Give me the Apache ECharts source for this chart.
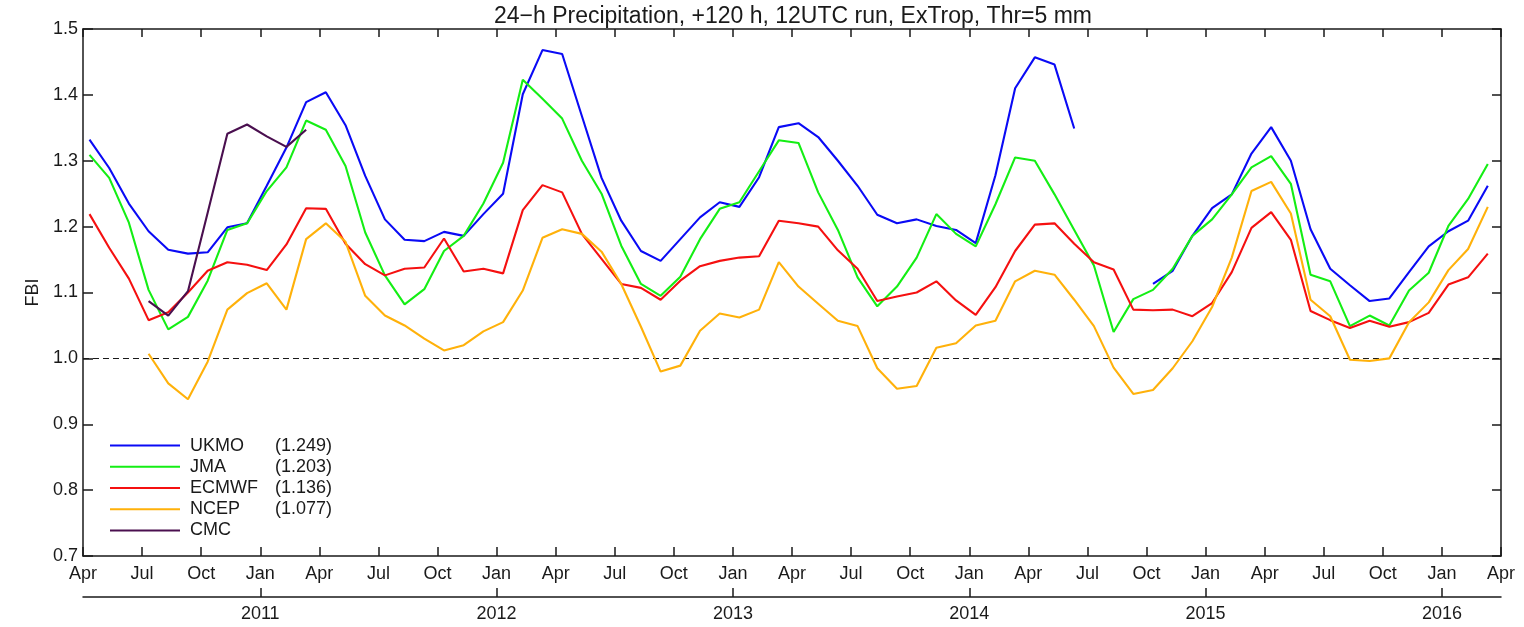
<!DOCTYPE html>
<html>
<head>
<meta charset="utf-8">
<title>FBI 24-h Precipitation</title>
<script src="https://cdn.jsdelivr.net/npm/echarts@6/dist/echarts.min.js"></script>
<style>
  html, body { margin: 0; padding: 0; background: #ffffff; }
  #chart { width: 1524px; height: 627px; }
</style>
</head>
<body>
<div id="chart"></div>
<script>
// Monthly frequency bias index, Apr 2010 .. Mar 2016 (72 months, one value per month)
const ukmo = [
  1.332, 1.289, 1.235, 1.193, 1.165, 1.159, 1.161, 1.199, 1.205, 1.262, 1.320, 1.389,
  1.404, 1.354, 1.277, 1.211, 1.180, 1.178, 1.192, 1.186, 1.219, 1.250, 1.401, 1.468,
  1.462, 1.368, 1.274, 1.209, 1.163, 1.148, 1.181, 1.214, 1.237, 1.230, 1.275, 1.351,
  1.357, 1.336, 1.300, 1.262, 1.218, 1.205, 1.211, 1.201, 1.195, 1.175, 1.278, 1.410,
  1.457, 1.446, 1.349, null,  null,  null,  1.113, 1.133, 1.186, 1.228, 1.249, 1.311,
  1.351, 1.300, 1.196, 1.136, 1.111, 1.087, 1.091, 1.131, 1.170, 1.193, 1.209, 1.262
];
const jma = [
  1.309, 1.274, 1.206, 1.104, 1.044, 1.063, 1.118, 1.195, 1.205, 1.254, 1.290, 1.361,
  1.347, 1.292, 1.191, 1.126, 1.082, 1.105, 1.163, 1.186, 1.235, 1.297, 1.423, 1.394,
  1.364, 1.300, 1.250, 1.171, 1.113, 1.095, 1.124, 1.181, 1.227, 1.237, 1.284, 1.331,
  1.327, 1.252, 1.195, 1.123, 1.079, 1.109, 1.153, 1.219, 1.189, 1.170, 1.234, 1.305,
  1.300, 1.249, 1.195, 1.141, 1.040, 1.090, 1.104, 1.136, 1.186, 1.211, 1.249, 1.290,
  1.307, 1.265, 1.127, 1.117, 1.049, 1.065, 1.050, 1.103, 1.130, 1.201, 1.242, 1.295
];
const ecmwf = [
  1.219, 1.168, 1.121, 1.058, 1.070, 1.100, 1.133, 1.146, 1.142, 1.134, 1.173, 1.228,
  1.227, 1.174, 1.143, 1.126, 1.136, 1.138, 1.182, 1.132, 1.136, 1.129, 1.225, 1.263,
  1.252, 1.189, 1.151, 1.113, 1.107, 1.089, 1.118, 1.140, 1.148, 1.153, 1.155, 1.209,
  1.205, 1.200, 1.164, 1.136, 1.087, 1.094, 1.100, 1.117, 1.088, 1.066, 1.108, 1.163,
  1.203, 1.205, 1.174, 1.146, 1.135, 1.074, 1.073, 1.074, 1.064, 1.084, 1.131, 1.198,
  1.222, 1.180, 1.072, 1.058, 1.046, 1.057, 1.048, 1.055, 1.069, 1.112, 1.123, 1.159
];
const ncep = [
  null,  null,  null,  1.007, 0.962, 0.938, 0.995, 1.074, 1.099, 1.114, 1.074, 1.181,
  1.205, 1.177, 1.095, 1.065, 1.050, 1.030, 1.012, 1.020, 1.041, 1.055, 1.103, 1.183,
  1.196, 1.189, 1.162, 1.113, 1.048, 0.980, 0.989, 1.042, 1.068, 1.062, 1.074, 1.146,
  1.109, 1.083, 1.057, 1.049, 0.985, 0.954, 0.958, 1.016, 1.023, 1.050, 1.057, 1.117,
  1.133, 1.127, 1.089, 1.049, 0.986, 0.946, 0.952, 0.985, 1.026, 1.078, 1.153, 1.254,
  1.268, 1.220, 1.089, 1.064, 0.998, 0.996, 1.000, 1.055, 1.085, 1.134, 1.166, 1.230
];
const cmc = [
  null,  null,  null,  1.087, 1.065, 1.102, 1.221, 1.341, 1.355, 1.337, 1.321, 1.347
];

// Legend entries and the mean FBI shown next to each model name
const models = ['UKMO', 'JMA', 'ECMWF', 'NCEP', 'CMC'];
const meanScores = ['(1.249)', '(1.203)', '(1.136)', '(1.077)', ''];
const modelColors = ['#0a0af5', '#14ee14', '#f51010', '#ffb10a', '#4a0f4f'];

// Axis labelling: quarterly month ticks starting in April, January year ticks
const quarterLabels = ['Apr', 'Jul', 'Oct', 'Jan'];
const yearLabels = ['2011', '2012', '2013', '2014', '2015', '2016'];
const yTickLabels = ['0.7', '0.8', '0.9', '1.0', '1.1', '1.2', '1.3', '1.4', '1.5'];

const TOTAL_MONTHS = 72;          // Apr 2010 .. Apr 2016
const POINT_OFFSET = 0.33;        // position of a monthly value inside its month
const FIRST_JAN = 9;              // months from April to the following January
const FBI_REFERENCE = 1.0;        // unbiased forecast

const seriesValues = [ukmo, jma, ecmwf, ncep, cmc];
const toPoints = arr => arr.map((v, i) => [i + POINT_OFFSET, v]);

const yearTicks = yearLabels.map((_, k) => FIRST_JAN + 12 * k);

const FONT = '"Liberation Sans", Arial, Helvetica, sans-serif';
const INK = '#1a1a1a';

const chart = echarts.init(document.getElementById('chart'), null, { renderer: 'canvas' });

const series = models.map((name, idx) => ({
  name: name,
  type: 'line',
  data: toPoints(seriesValues[idx]),
  showSymbol: false,
  symbol: 'none',
  connectNulls: false,
  color: modelColors[idx],
  lineStyle: { width: 2.1, color: modelColors[idx] },
  emphasis: { disabled: true },
  z: 3 + idx,
  animation: false
}));

// Dashed reference line at FBI = 1
series[0].markLine = {
  silent: true,
  symbol: 'none',
  label: { show: false },
  lineStyle: { type: [6, 4], width: 1.2, color: INK },
  data: [{ yAxis: FBI_REFERENCE }],
  animation: false
};

const option = {
  backgroundColor: '#ffffff',
  animation: false,
  title: {
    text: '24\u2212h Precipitation, +120 h, 12UTC run, ExTrop, Thr=5 mm',
    left: 788,
    top: 0,
    textAlign: 'center',
    textStyle: { fontFamily: FONT, fontSize: 23, fontWeight: 'normal', color: INK }
  },
  legend: {
    orient: 'vertical',
    left: 105,
    top: 430,
    itemWidth: 70,
    itemHeight: 2,
    itemGap: 0,
    icon: 'rect',
    selectedMode: false,
    data: models,
    formatter: name => {
      const i = models.indexOf(name);
      return '{n|' + name + '}{v|' + meanScores[i] + '}';
    },
    textStyle: {
      fontFamily: FONT,
      fontSize: 18,
      color: INK,
      lineHeight: 21.2,
      rich: {
        n: { fontFamily: FONT, fontSize: 18, color: INK, width: 85, padding: [0, 0, 0, 5], lineHeight: 21.2 },
        v: { fontFamily: FONT, fontSize: 18, color: INK, lineHeight: 21.2 }
      }
    }
  },
  grid: { left: 83, right: 23, top: 29, bottom: 71, containLabel: false },
  xAxis: [
    {
      type: 'value',
      position: 'bottom',
      min: 0,
      max: TOTAL_MONTHS,
      interval: 3,
      splitLine: { show: false },
      axisLine: { show: true, onZero: false, lineStyle: { color: INK, width: 1.5 } },
      axisTick: { show: true, inside: true, length: 9, lineStyle: { color: INK, width: 1.5 } },
      axisLabel: {
        show: true,
        margin: 9,
        fontFamily: FONT,
        fontSize: 18,
        color: INK,
        showMinLabel: true,
        showMaxLabel: true,
        formatter: v => quarterLabels[Math.round(v / 3) % 4]
      }
    },
    {
      type: 'value',
      position: 'top',
      min: 0,
      max: TOTAL_MONTHS,
      interval: 3,
      splitLine: { show: false },
      axisLine: { show: true, onZero: false, lineStyle: { color: INK, width: 1.5 } },
      axisTick: { show: true, inside: true, length: 8, lineStyle: { color: INK, width: 1.5 } },
      axisLabel: { show: false }
    },
    {
      type: 'value',
      position: 'bottom',
      offset: 41,
      min: 0,
      max: TOTAL_MONTHS,
      splitLine: { show: false },
      axisLine: { show: true, onZero: false, lineStyle: { color: INK, width: 1.5 } },
      axisTick: { show: true, inside: true, length: 9, customValues: yearTicks, lineStyle: { color: INK, width: 1.5 } },
      axisLabel: {
        show: true,
        margin: 8,
        fontFamily: FONT,
        fontSize: 18,
        color: INK,
        customValues: yearTicks,
        formatter: v => yearLabels[yearTicks.indexOf(Math.round(v))]
      }
    }
  ],
  yAxis: [
    {
      type: 'value',
      position: 'left',
      min: 0.7,
      max: 1.5,
      interval: 0.1,
      name: 'FBI',
      nameLocation: 'middle',
      nameGap: 41,
      nameRotate: 90,
      nameTextStyle: { fontFamily: FONT, fontSize: 18, color: INK },
      splitLine: { show: false },
      axisLine: { show: true, onZero: false, lineStyle: { color: INK, width: 1.5 } },
      axisTick: { show: true, inside: true, length: 10, lineStyle: { color: INK, width: 1.5 } },
      axisLabel: {
        show: true,
        margin: 5,
        fontFamily: FONT,
        fontSize: 18,
        color: INK,
        formatter: v => yTickLabels[Math.round((v - 0.7) * 10)]
      }
    },
    {
      type: 'value',
      position: 'right',
      min: 0.7,
      max: 1.5,
      interval: 0.1,
      splitLine: { show: false },
      axisLine: { show: true, onZero: false, lineStyle: { color: INK, width: 1.5 } },
      axisTick: { show: true, inside: true, length: 9, lineStyle: { color: INK, width: 1.5 } },
      axisLabel: { show: false }
    }
  ],
  series: series
};

chart.setOption(option);
</script>
</body>
</html>
